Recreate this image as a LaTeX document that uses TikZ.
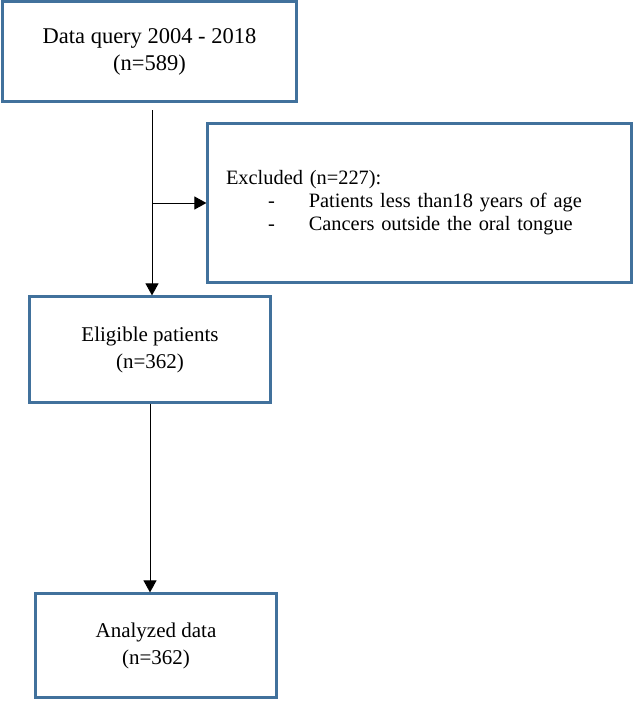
\documentclass[tikz,border=0pt]{standalone}
\usepackage{fontspec}
\setmainfont{Liberation Serif}
\usetikzlibrary{arrows.meta,positioning}
\definecolor{boxblue}{HTML}{41719C}
\tikzset{flowbox/.style={draw=boxblue, line width=2.2pt, align=center, inner sep=0pt,
    font=\fontsize{21}{27}\selectfont}}
\tikzset{flowline/.style={-{Triangle[length=12pt,width=13pt]}, line width=0.9pt}}

\begin{document}
\begin{tikzpicture}[x=1pt,y=-1pt]
    \useasboundingbox (0,0) rectangle (633,701);
    \node[flowbox, minimum width=294pt, minimum height=100pt,
        font=\fontsize{22.5}{27}\selectfont] (query) at (149.5,51.5) {Data query 2004 - 2018\\(n=589)};
    \node[flowbox, minimum width=424pt, minimum height=159pt, text width=387pt, align=left,
        font=\fontsize{20.4}{23}\selectfont] (excluded) at (419.5,203)
        {Excluded (n=227):\\
        \hspace*{42pt}-\hspace*{34pt}Patients less than18 years of age\\
        \hspace*{42pt}-\hspace*{34pt}Cancers outside the oral tongue};
    \node[flowbox, minimum width=241pt, minimum height=106pt] (eligible) at (150,349.5) {Eligible patients\\(n=362)};
    \node[flowbox, minimum width=241pt, minimum height=104pt] (analyzed) at (156,645.5) {Analyzed data\\(n=362)};
    % connectors
    \coordinate (qout) at (152,110);
    \coordinate (split) at (152,203);
    \draw[flowline] (qout) -- (qout |- eligible.north);
    \draw[flowline] (split) -- (split -| excluded.west);
    \draw[flowline] (eligible.south) -- (eligible.south |- analyzed.north);
\end{tikzpicture}
\end{document}
